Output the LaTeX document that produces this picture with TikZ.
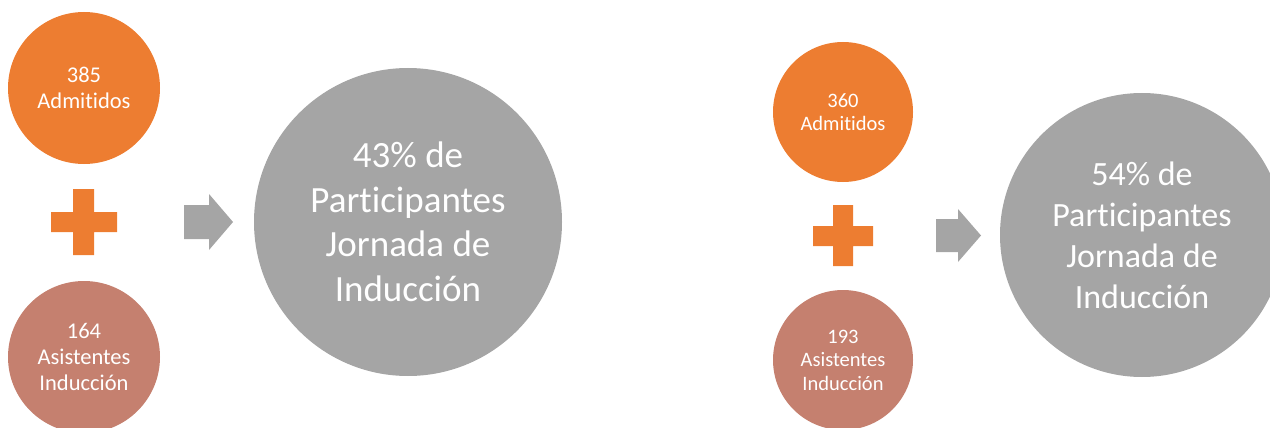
\documentclass[tikz,border=0pt]{standalone}
\usepackage{fontspec}
\setmainfont{Carlito}[RawFeature={-liga}]
\definecolor{orng}{HTML}{ED7D31}
\definecolor{rose}{HTML}{C5806F}
\definecolor{grey}{HTML}{A5A5A5}
\begin{document}
\begin{tikzpicture}[x=1pt,y=-1pt,
  disc/.style={circle,inner sep=0pt,text=white,align=center},
  smallL/.style={disc,minimum size=152pt,font=\fontsize{22.5}{26}\selectfont},
  smallR/.style={disc,minimum size=140pt,font=\fontsize{20.5}{23.5}\selectfont},
  bigL/.style={disc,minimum size=308pt,font=\fontsize{37}{44.5}\selectfont},
  bigR/.style={disc,minimum size=284pt,font=\fontsize{34}{41}\selectfont},
  plusshape/.style={fill=orng,draw=none},
  blockarrow/.style={fill=grey,draw=none}]
\useasboundingbox (0,0) rectangle (1270,428);
\begin{scope}
\clip (0,0) rectangle (1270,428);
% left group
\node[smallL,fill=orng] (adm1) at (84,88) {385\\Admitidos};
\node[smallL,fill=rose] (asi1) at (84,357) {164\\Asistentes\\Inducción};
\node[bigL,fill=grey] (res1) at (408,222) {43\% de\\Participantes\\Jornada de\\Inducción};
\fill[plusshape] (73,189) -- (94,189) -- (94,212) -- (117,212) -- (117,232) -- (94,232) -- (94,255) -- (73,255) -- (73,232) -- (51,232) -- (51,212) -- (73,212) -- cycle;
\fill[blockarrow] (184,205) -- (209,205) -- (209,194) -- (233,222) -- (209,250) -- (209,239) -- (184,239) -- cycle;
% right group
\node[smallR,fill=orng] (adm2) at (843,112) {360\\Admitidos};
\node[smallR,fill=rose] (asi2) at (843,360) {193\\Asistentes\\Inducción};
\node[bigR,fill=grey] (res2) at (1142,235) {54\% de\\Participantes\\Jornada de\\Inducción};
\fill[plusshape] (833,205) -- (853,205) -- (853,226) -- (873,226) -- (873,246) -- (853,246) -- (853,266) -- (833,266) -- (833,246) -- (813,246) -- (813,226) -- (833,226) -- cycle;
\fill[blockarrow] (936,219) -- (958,219) -- (958,209) -- (981,235.5) -- (958,262) -- (958,252) -- (936,252) -- cycle;
\end{scope}
\end{tikzpicture}
\end{document}
